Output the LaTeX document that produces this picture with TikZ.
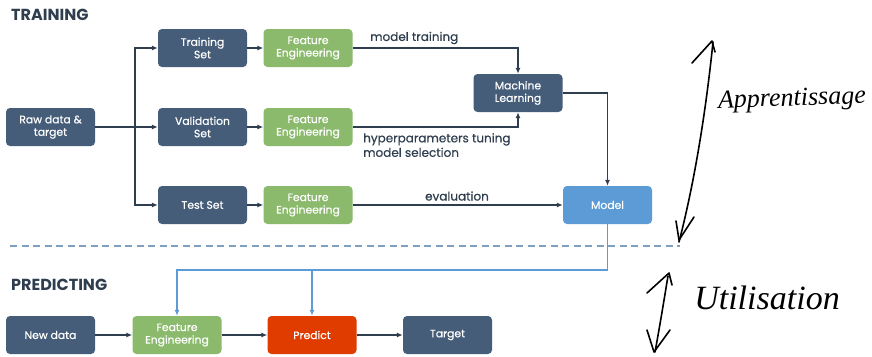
\documentclass[tikz,border=0pt]{standalone}
\usepackage{fontspec}
\setmainfont{Poppins}
\newfontfamily\boxfont[FakeBold=0.5]{Poppins}
\newfontfamily\handfont{Liberation Serif}
\usetikzlibrary{arrows.meta,calc}

\definecolor{slate}{HTML}{465D7A}
\definecolor{leaf}{HTML}{8BBA6D}
\definecolor{sky}{HTML}{5C9BD6}
\definecolor{flame}{HTML}{E03C00}
\definecolor{ink}{HTML}{2F3E4E}
\definecolor{rule}{HTML}{7F9FBF}

\tikzset{
  box/.style={rounded corners=4pt, minimum width=89pt, minimum height=38pt,
    text=white, align=center, font=\boxfont\fontsize{10.8}{12.5}\selectfont, inner sep=2pt},
  darkbox/.style={box, fill=slate},
  febox/.style={box, fill=leaf},
  modelbox/.style={box, fill=sky},
  predictbox/.style={box, fill=flame},
  flow/.style={draw=ink, line width=1.3pt, -{Latex[length=6pt,width=5pt]}},
  bflow/.style={draw=sky, line width=1.3pt, -{Latex[length=6pt,width=5pt]}},
  lbl/.style={text=ink, font=\boxfont\fontsize{12}{14.5}\selectfont, inner sep=0pt},
  heading/.style={text=ink, font=\fontsize{16}{18}\selectfont\bfseries, inner sep=0pt, anchor=west},
  hand/.style={draw=black, line width=1.6pt, line cap=round, line join=round},
  handtext/.style={text=black, font=\handfont\itshape\fontsize{26}{28}\selectfont, inner sep=0pt}
}

\begin{document}
\begin{tikzpicture}[x=1pt, y=-1pt]
  \useasboundingbox[fill=white] (0,0) rectangle (872,356);

  % section headings
  \node[heading] (htrain) at (11,15) {TRAINING};
  \node[heading] (hpred) at (11,285) {PREDICTING};

  % training row nodes
  \node[darkbox] (raw) at (50.5,127) {Raw data \&\\target};
  \node[darkbox] (tset) at (202.5,48) {Training\\Set};
  \node[darkbox] (vset) at (202.5,127) {Validation\\Set};
  \node[darkbox] (xset) at (202.5,205) {Test Set};
  \node[febox] (fe1) at (308,48) {Feature\\Engineering};
  \node[febox] (fe2) at (308,127) {Feature\\Engineering};
  \node[febox] (fe3) at (308,205) {Feature\\Engineering};
  \node[darkbox] (ml) at (518,93) {Machine\\Learning};
  \node[modelbox] (model) at (607.5,205) {Model};

  % predicting row nodes
  \node[darkbox] (new) at (50.5,335) {New data};
  \node[febox] (fe4) at (177,335) {Feature\\Engineering};
  \node[predictbox] (pred) at (312,335) {Predict};
  \node[darkbox] (target) at (447.5,335) {Target};

  % split of the raw data into three sets
  \coordinate (split) at (135,127);
  \draw[flow] (raw.east) -- (split) |- (tset.west);
  \draw[flow] (split) -- (vset.west);
  \draw[flow] (split) |- (xset.west);

  \draw[flow] (tset) -- (fe1);
  \draw[flow] (vset) -- (fe2);
  \draw[flow] (xset) -- (fe3);

  % into the learner and the model
  \draw[flow] (fe1.east) -| (ml.north);
  \draw[flow] (fe2.east) -| (ml.south);
  \draw[flow] (fe3.east) -- (model.west);
  \draw[flow] (ml.east) -| (model.north);

  \node[lbl, anchor=west] (lt) at (370,38) {model training};
  \node[lbl, anchor=north west, align=left] (lh) at (363,133) {hyperparameters tuning\\model selection};
  \node[lbl] (le) at (457,196) {evaluation};

  % separator
  \coordinate (sepL) at (10,246);
  \coordinate (sepR) at (680,246);
  \draw[rule, line width=1.5pt, dash pattern=on 7pt off 4.5pt] (sepL) -- (sepR);

  % model feeding the prediction row
  \coordinate (bus) at (607.5,270);
  \draw[bflow] (model.south) -- (bus) -| (fe4.north);
  \draw[bflow] (pred.north |- bus) -- (pred.north);

  \draw[flow] (new) -- (fe4);
  \draw[flow] (fe4) -- (pred);
  \draw[flow] (pred) -- (target);

  % hand-drawn annotations
  \draw[hand] (713,42) .. controls (706,110) and (695,180) .. (679,242);
  \draw[hand] (692,63) -- (712,41) -- (715,52);
  \draw[hand] (694,217) -- (679,240);
  \draw[hand] (676,221) -- (679,240);
  \node[handtext, rotate=2] (happ) at (792,100) {Apprentissage};

  \draw[hand] (668,276) .. controls (664,300) and (660,325) .. (655,352);
  \draw[hand] (647,293) -- (669,273) -- (672,285);
  \draw[hand] (647,330) -- (654,352) -- (670,330);
  \node[handtext, font=\handfont\itshape\fontsize{34}{36}\selectfont] (hutil) at (767,298) {Utilisation};
\end{tikzpicture}
\end{document}
